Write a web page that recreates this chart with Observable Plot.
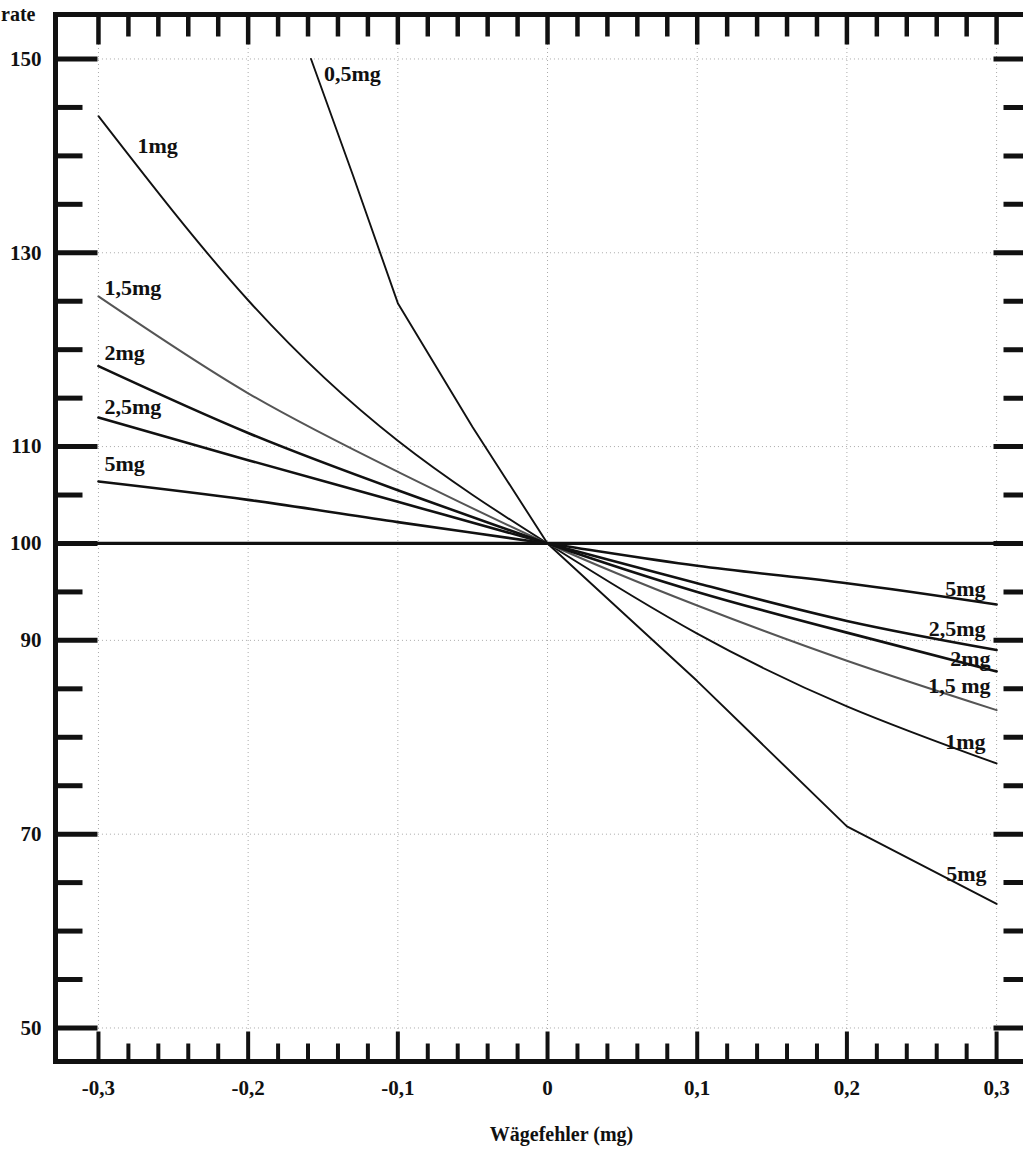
<!DOCTYPE html>
<html>
<head>
<meta charset="utf-8">
<script src="https://cdn.jsdelivr.net/npm/d3@7"></script>
<script src="https://cdn.jsdelivr.net/npm/@observablehq/plot@0.6"></script>
<style>
  html, body { margin: 0; padding: 0; background: #fff; }
  #chart svg { display: block; }
</style>
</head>
<body>
<div id="chart"></div>
<script>
// ---------- data ----------
const errorSteps = [-0.3, -0.2, -0.1, 0, 0.1, 0.2, 0.3];          // Wägefehler (mg)
const rate1mg  = [144.1, 125.1, 110.6, 100, 90.7, 83.2, 77.3];
const rate15mg = [125.5, 115.5, 107.4, 100, 93.6, 87.9, 82.8];
const rate2mg  = [118.3, 111.4, 105.5, 100, 95.0, 90.8, 86.8];
const rate25mg = [113.0, 108.6, 104.3, 100, 95.9, 92.0, 89.0];
const rate5mg  = [106.4, 104.5, 102.2, 100, 97.7, 95.9, 93.7];
const errors05mg = [-0.158, -0.13, -0.1, -0.05, 0, 0.1, 0.2, 0.3];
const rate05mg   = [150, 138.0, 124.8, 112.0, 100, 85.8, 70.8, 62.8];
const referenceRate = [100];

const xTickLabels = [-0.3, -0.2, -0.1, 0, 0.1, 0.2, 0.3];
const yTickLabels = [150, 130, 110, 100, 90, 70, 50];
const xMinorTicks = d3.range(-15, 16).map(i => i / 50);            // every 0,02
const xMajorTicks = [-0.3, -0.2, -0.1, 0, 0.1, 0.2, 0.3];
const yMinorTicks = d3.range(50, 151, 5);
const yMajorTicks = [50, 70, 90, 100, 110, 130, 150];
const xGrid = [-0.3, -0.2, -0.1, 0, 0.1, 0.2, 0.3];
const yGrid = [50, 70, 90, 110, 130, 150];

// frame extents (data units)
const X0 = -0.3287, X1 = 0.33, Y0 = 46.54, Y1 = 154.59;

function rows(name, xs, ys) { return xs.map((x, i) => ({series: name, error: x, rate: ys[i]})); }
const s05 = rows("0,5mg", errors05mg, rate05mg);
const s1  = rows("1mg", errorSteps, rate1mg);
const s15 = rows("1,5mg", errorSteps, rate15mg);
const s2  = rows("2mg", errorSteps, rate2mg);
const s25 = rows("2,5mg", errorSteps, rate25mg);
const s5  = rows("5mg", errorSteps, rate5mg);

const FONT = "'Liberation Serif', 'Times New Roman', serif";
const ink = "#111";

const tickShape = {draw(ctx, l) { ctx.moveTo(0, 0); ctx.lineTo(0, -l); }};
function ticks(data, dim, anchor, rotate, length, width) {
  const o = {frameAnchor: anchor, rotate, length, anchor: "start", shape: tickShape,
             stroke: ink, strokeWidth: width, strokeLinecap: "butt"};
  o[dim] = d => d;
  return Plot.vector(data, o);
}
const minorOnlyX = xMinorTicks.filter(v => !xMajorTicks.some(m => Math.abs(m - v) < 1e-9));
const minorOnlyY = yMinorTicks.filter(v => !yMajorTicks.includes(v));

function label(pt, text, dx, dy, anchor) {
  return Plot.text([pt], {x: "error", y: "rate", text: () => text, dx, dy,
    textAnchor: anchor, lineAnchor: "middle", fontFamily: FONT, fontWeight: "bold",
    fontSize: 22, fill: ink});
}
const first = s => s[0], last = s => s[s.length - 1];
const fmt = d => d === 0 ? "0" : d.toFixed(1).replace(".", ",");
const curve = "natural";

const chart = Plot.plot({
  width: 1023, height: 1149,
  marginLeft: 55, marginRight: -18, marginTop: 14, marginBottom: 88,
  x: {domain: [X0, X1]},
  y: {domain: [Y0, Y1]},
  style: {fontFamily: FONT, background: "#fff", color: ink},
  marks: [
    // dotted grid
    Plot.ruleX(xGrid, {x: d => d, y1: Y0, y2: Y1, stroke: "#888", strokeWidth: 1, strokeDasharray: "1,3", strokeOpacity: 0.7}),
    Plot.ruleY(yGrid, {y: d => d, x1: xGrid[0], x2: xGrid[xGrid.length - 1], stroke: "#888", strokeWidth: 1, strokeDasharray: "1,3", strokeOpacity: 0.7}),
    // 100 % reference line
    Plot.ruleY(referenceRate, {y: d => d, x1: X0, x2: X1, stroke: ink, strokeWidth: 3.2}),
    // curves
    Plot.line(s05, {x: "error", y: "rate", stroke: ink, strokeWidth: 1.9}),
    Plot.line(s1,  {x: "error", y: "rate", stroke: ink, strokeWidth: 1.9, curve}),
    Plot.line(s15, {x: "error", y: "rate", stroke: "#555", strokeWidth: 2, curve}),
    Plot.line(s2,  {x: "error", y: "rate", stroke: ink, strokeWidth: 2.6, curve}),
    Plot.line(s25, {x: "error", y: "rate", stroke: ink, strokeWidth: 2.6, curve}),
    Plot.line(s5,  {x: "error", y: "rate", stroke: ink, strokeWidth: 2.6, curve}),
    // frame
    Plot.frame({stroke: ink, strokeWidth: 5}),
    // tick marks: left, right, top, bottom
    ticks(yMajorTicks, "y", "left", 90, 42, 5),
    ticks(minorOnlyY, "y", "left", 90, 27, 5),
    ticks(yMajorTicks, "y", "right", 270, 48, 5),
    ticks(minorOnlyY, "y", "right", 270, 38, 5),
    ticks(xMajorTicks, "x", "top", 180, 30, 4.5),
    ticks(minorOnlyX, "x", "top", 180, 22, 4.5),
    ticks(xMajorTicks, "x", "bottom", 0, 30, 4),
    ticks(minorOnlyX, "x", "bottom", 0, 18, 4),
    // axes labels
    Plot.axisX(xTickLabels, {anchor: "bottom", tickSize: 0, tickPadding: 19, tickFormat: fmt,
      fontSize: 21, fontWeight: "bold", fontFamily: FONT, label: null, fill: ink}),
    Plot.axisY(yTickLabels, {anchor: "left", tickSize: 0, tickPadding: 14, tickFormat: d => String(d),
      fontSize: 21, fontWeight: "bold", fontFamily: FONT, label: null, fill: ink}),
    Plot.text(["Wägefehler (mg)"], {frameAnchor: "bottom", dx: 13, dy: 79, text: d => d,
      fontSize: 20, fontWeight: "bold", fontFamily: FONT, fill: ink}),
    Plot.text(["rate"], {frameAnchor: "top-left", dx: -20, dy: -8, text: d => d, textAnchor: "end",
      fontSize: 20, fontWeight: "bold", fontFamily: FONT, fill: ink}),
    // curve labels, left side
    label(first(s05), "0,5mg", 13, 15, "start"),
    label(first(s1), "1mg", 39, 30, "start"),
    label(first(s15), "1,5mg", 6, -8, "start"),
    label(first(s2), "2mg", 6, -13, "start"),
    label(first(s25), "2,5mg", 6, -11, "start"),
    label(first(s5), "5mg", 6, -18, "start"),
    // curve labels, right side
    label(last(s5), "5mg", -11, -16, "end"),
    label(last(s25), "2,5mg", -11, -21, "end"),
    label(last(s2), "2mg", -6, -12, "end"),
    label(last(s15), "1,5 mg", -6, -24, "end"),
    label(last(s1), "1mg", -11, -21, "end"),
    label(last(s05), "5mg", -10, -30, "end")
  ]
});
document.getElementById("chart").appendChild(chart);
</script>
</body>
</html>
